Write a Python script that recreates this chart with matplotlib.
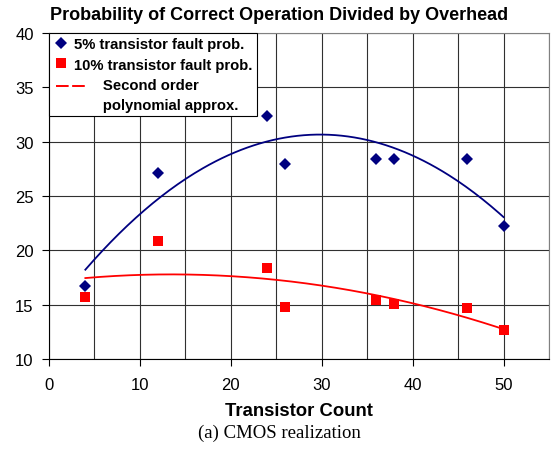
import numpy as np
import matplotlib.pyplot as plt
from matplotlib.lines import Line2D
from matplotlib.legend_handler import HandlerBase

# transistor counts and values
counts = [4, 12, 24, 26, 36, 38, 46, 50]
prob5 = [16.7, 27.1, 32.4, 27.9, 28.4, 28.4, 28.4, 22.2]
prob10 = [15.7, 20.9, 18.4, 14.8, 15.4, 15.1, 14.7, 12.7]

navy = '#000080'
red = '#ff0000'

plt.rcParams['font.family'] = ['Liberation Sans', 'DejaVu Sans']


class WideLine(HandlerBase):
  # legend line drawn wider than the marker handles, as two long dashes,
  # level with the first line of its two-line label
  def create_artists(self, legend, orig_handle, xdescent, ydescent, width,
                     height, fontsize, trans):
    y = height / 2 - ydescent + 0.6 * fontsize
    l = Line2D([-xdescent + 2, -xdescent + width * 2.3], [y, y],
               color=orig_handle.get_color(), lw=1.4, ls=(0, (6.5, 1.8)))
    l.set_transform(trans)
    return [l]


fig = plt.figure(figsize=(5.58, 4.52), dpi=100)
ax = fig.add_axes([0.0878, 0.2035, 0.896, 0.7215])

# second order trend lines (like the spreadsheet trendline)
xs = np.linspace(counts[0], counts[-1], 200)
c5 = np.polyfit(counts, prob5, 2)
c10 = np.polyfit(counts, prob10, 2)
ax.plot(xs, np.polyval(c5, xs), color=navy, lw=1.3, zorder=3)
ax.plot(xs, np.polyval(c10, xs), color=red, lw=1.3, zorder=3)

ax.plot(counts, prob5, 'D', color=navy, ms=6.5, mew=0, zorder=4)
ax.plot(counts, prob10, 's', color=red, ms=7, mew=0, zorder=4)

ax.set_xlim(0, 55)
ax.set_ylim(10, 40)
ax.set_xticks(range(0, 51, 10))
ax.set_xticks(range(0, 56, 5), minor=True)
ax.set_yticks(range(10, 41, 5))
ax.grid(True, which='both', color='#303030', lw=0.8)
ax.set_axisbelow(True)
ax.tick_params(which='major', direction='out', length=5, width=0.8, labelsize=12)
ax.tick_params(axis='x', pad=8)
ax.tick_params(axis='y', pad=6)
ax.tick_params(which='minor', length=0)
for s in ['top', 'right']:
  ax.spines[s].set_color('#808080')
for s in ['left', 'bottom']:
  ax.spines[s].set_color('black')

fig.text(0.5, 0.966, 'Probability of Correct Operation Divided by Overhead',
         ha='center', va='center', fontsize=13, fontweight='bold')
ax.set_xlabel('Transistor Count', fontsize=13.3, fontweight='bold', labelpad=7)

fit_handle = Line2D([], [], color=red, lw=1.4)
handles = [
  Line2D([], [], marker='D', color=navy, ls='none', ms=6.5, mew=0),
  Line2D([], [], marker='s', color=red, ls='none', ms=7, mew=0),
  fit_handle,
]
labels = ['5% transistor fault prob.', '10% transistor fault prob.',
          '       Second order\n       polynomial approx.']
leg = ax.legend(handles, labels, loc='upper left', bbox_to_anchor=(0, 1.0),
                prop={'weight': 'bold', 'size': 10.7}, frameon=True, fancybox=False,
                edgecolor='black', framealpha=1, borderpad=0.3, labelspacing=0.42,
                handlelength=1.0, handletextpad=0.4, borderaxespad=0,
                handler_map={fit_handle: WideLine()})
leg.get_frame().set_linewidth(0.8)
leg.get_texts()[2].set_linespacing(1.55)

fig.text(0.5, 0.042, '(a) CMOS realization', ha='center', va='center',
         fontsize=13.5, family=['Liberation Serif', 'DejaVu Serif'])

fig.savefig('out.png', dpi=100)
